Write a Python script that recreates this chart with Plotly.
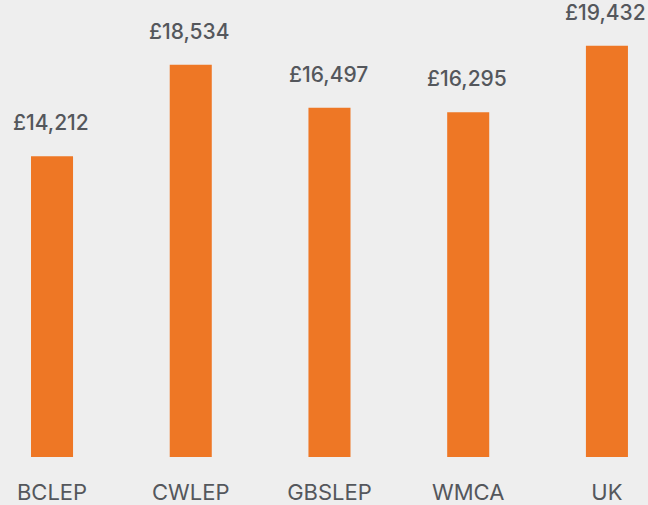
import plotly.graph_objects as go

categories = ["BCLEP", "CWLEP", "GBSLEP", "WMCA", "UK"]
values = [14212, 18534, 16497, 16295, 19432]
value_labels = ["£14,212", "£18,534", "£16,497", "£16,295", "£19,432"]

BG = "#EEEEEE"
BAR = "#EE7725"
TXT = "#54575C"
FONT = "Inter, Liberation Sans, Arial, sans-serif"

fig = go.Figure(go.Bar(
    x=list(range(len(categories))),
    y=values,
    width=0.303,
    marker=dict(color=BAR, line=dict(width=0)),
    hoverinfo="skip",
))

for i, (v, lab) in enumerate(zip(values, value_labels)):
    fig.add_annotation(x=i, y=v, text=lab, showarrow=False,
                       yanchor="bottom", yshift=19, xshift=-1,
                       font=dict(family=FONT, size=21, color=TXT, weight=500))

fig.update_layout(
    width=648, height=505,
    margin=dict(l=0, r=0, t=0, b=48, autoexpand=False),
    paper_bgcolor=BG, plot_bgcolor=BG,
    showlegend=False,
    xaxis=dict(range=[-0.375, 4.296], tickmode="array",
               tickvals=list(range(len(categories))), ticktext=categories,
               showgrid=False, zeroline=False, showline=False, ticks="",
               automargin=False, ticklabelstandoff=20,
               tickfont=dict(family=FONT, size=22, color=TXT)),
    yaxis=dict(range=[0, 21593], visible=False, showgrid=False, zeroline=False,
               automargin=False),
)

fig.write_html("out.html",
               config={"displayModeBar": False, "staticPlot": True},
               post_script="document.body.style.margin='0';document.body.style.padding='0';document.documentElement.style.overflow='hidden';")
